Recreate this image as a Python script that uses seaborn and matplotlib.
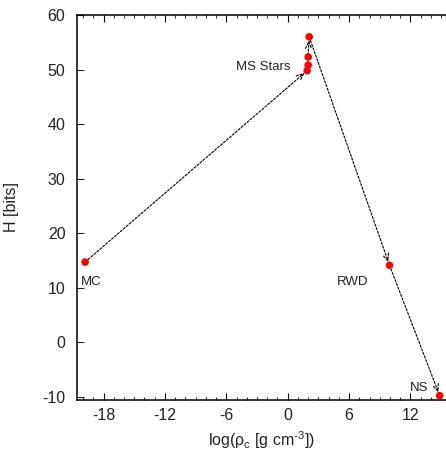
import matplotlib
matplotlib.use("Agg")
import matplotlib.pyplot as plt
import seaborn as sns
import pandas as pd
from matplotlib.ticker import MultipleLocator

# data
objects = ["MC", "MS1", "MS2", "MS3", "MS4", "RWD", "NS"]
log_rho = [-19.8, 1.9, 2.0, 2.0, 2.1, 9.95, 14.85]
H_bits = [14.7, 49.8, 50.8, 52.3, 56.0, 14.1, -9.8]
# arrows as (from index, to index)
arrows = [(0, 1), (1, 4), (4, 5), (5, 6)]
# text labels
label_text = ["MC", "MS Stars", "RWD", "NS"]
label_x = [-20.25, -2.4, 6.3, 12.8]
label_y = [11.1, 50.5, 11.1, -8.4]
label_ha = ["left", "center", "center", "center"]

xticks = [-18, -12, -6, 0, 6, 12]
yticks = [-10, 0, 10, 20, 30, 40, 50, 60]

sns.set_style("ticks")
plt.rcParams["font.family"] = ["Liberation Sans", "DejaVu Sans"]
plt.rcParams["mathtext.default"] = "regular"

fig = plt.figure(figsize=(4.46, 4.55), dpi=100)
ax = fig.add_axes([76.5 / 446, 1 - 400 / 455, (446 - 76.5) / 446, (400 - 15) / 455])

df = pd.DataFrame({"x": log_rho, "H": H_bits, "obj": objects})

for a, b in arrows:
    ax.annotate("", xy=(log_rho[b], H_bits[b]), xytext=(log_rho[a], H_bits[a]),
                arrowprops=dict(arrowstyle="->,head_length=0.5,head_width=0.22",
                                linestyle=(0, (2.0, 1.5)), lw=0.8, color="black",
                                shrinkA=0, shrinkB=2.5), zorder=2)

sns.scatterplot(data=df, x="x", y="H", color="red", edgecolor="none", s=30,
                ax=ax, zorder=3, legend=False)

for t, x, y, ha in zip(label_text, label_x, label_y, label_ha):
    ax.text(x, y, t, ha=ha, va="center", fontsize=9.5, color="#222222")

ax.set_xlim(-20.64, 15.47)
ax.set_ylim(-10.6, 60)
ax.set_xticks(xticks)
ax.set_yticks(yticks)
ax.set_xticklabels([str(v) for v in xticks])
ax.set_yticklabels([str(v) for v in yticks])
ax.xaxis.set_minor_locator(MultipleLocator(1))

ax.spines["right"].set_visible(False)
for s in ["left", "bottom", "top"]:
    ax.spines[s].set_linewidth(1.1)
    ax.spines[s].set_color("black")

ax.tick_params(axis="x", which="major", direction="in", length=5, width=0.8,
               top=True, bottom=True, labelsize=11.5, pad=6, colors="black")
ax.tick_params(axis="x", which="minor", direction="in", length=2.5, width=0.7,
               top=True, bottom=True)
ax.tick_params(axis="y", which="major", direction="in", length=5, width=0.8,
               left=True, right=False, labelsize=11.5, pad=8)
ax.tick_params(labelcolor="#222222")

ax.set_xlabel("log($\\rho_c$ [g cm$^{\\text{-}3}$])", fontsize=11.5, color="#222222", labelpad=4)
ax.set_ylabel("H [bits]", fontsize=11.5, color="#222222", labelpad=17)

fig.savefig("out.png", dpi=100)
